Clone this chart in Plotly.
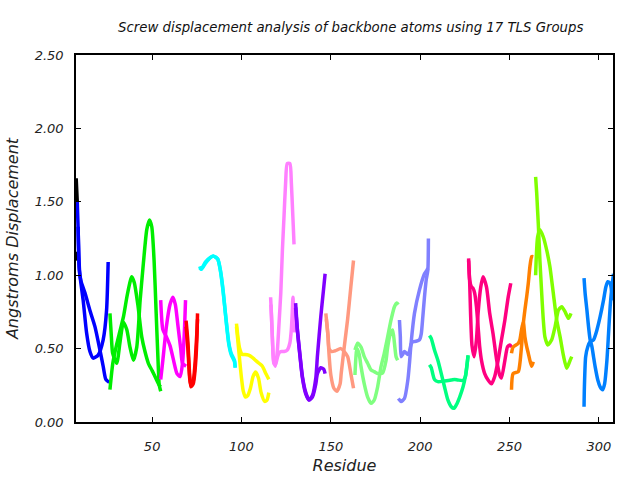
import plotly.graph_objects as go

# TLS group names and colours
groups = ["G1", "G2", "G3", "G4", "G5", "G6", "G7", "G8", "G9", "G10",
          "G11", "G12", "G13", "G14", "G15", "G16", "G17"]
colors = ["#000000", "#0000ff", "#00ee00", "#ff00ff", "#ff0000", "#00ffff",
          "#ffff00", "#ff80ff", "#8000ff", "#ff9980", "#80ff80", "#8080ff",
          "#00ff80", "#ff0080", "#ff8000", "#80ff00", "#0080ff"]

# Residue numbers (x) and displacement values (y) for the two screw curves of each group
g1_x = [7.5, 7.8, 8.1]
g1_a = [1.66, 1.58, 1.50]
g1_b = [1.16, 1.13, 1.10]

g2_xa = [8.1, 8.5, 9.0, 9.5, 11.4, 13.3, 15.2, 17.0, 19.8, 22.6, 24.5, 25.4]
g2_a = [1.50, 1.35, 1.13, 1.01, 0.83, 0.61, 0.48, 0.435, 0.456, 0.56, 0.76, 1.09]
g2_xb = [8.6, 9.2, 10.2, 12.4, 15.2, 18.0, 20.8, 22.6, 24.1, 26.0]
g2_b = [1.33, 1.04, 0.96, 0.88, 0.76, 0.65, 0.49, 0.38, 0.29, 0.27]

g3_xa = [26.4, 27.2, 27.9, 30.2, 32.0, 33.9, 35.8, 37.6, 39.5, 41.4, 43.3, 45.1, 47.0, 48.5, 49.8, 51.1, 52.2, 53.2, 54.0, 54.8]
g3_a = [0.74, 0.58, 0.47, 0.40, 0.54, 0.68, 0.63, 0.51, 0.42, 0.51, 0.83, 1.08, 1.31, 1.376, 1.33, 1.10, 0.76, 0.45, 0.25, 0.21]
g3_xb = [26.4, 28.0, 30.0, 32.0, 34.0, 36.0, 38.0, 38.6, 40.0, 42.0, 44.2, 46.0, 47.9, 50.0, 52.0, 54.0, 54.8]
g3_b = [0.22, 0.40, 0.52, 0.62, 0.72, 0.86, 0.97, 0.99, 0.95, 0.80, 0.58, 0.48, 0.40, 0.35, 0.30, 0.25, 0.24]

g4_xa = [54.8, 56.0, 58.0, 60.0, 62.0, 63.9, 65.7, 67.0, 68.0, 68.7]
g4_a = [0.83, 0.63, 0.58, 0.52, 0.42, 0.33, 0.31, 0.40, 0.60, 0.83]
g4_xb = [54.8, 56.0, 58.0, 60.0, 61.6, 63.0, 64.5, 66.0, 67.0, 69.0]
g4_b = [0.29, 0.42, 0.65, 0.80, 0.85, 0.80, 0.65, 0.50, 0.40, 0.38]

g5_x = [69.0, 70.0, 71.0, 71.7, 73.0, 74.0, 75.0, 75.4]
g5_a = [0.69, 0.55, 0.32, 0.24, 0.26, 0.35, 0.55, 0.74]
g5_b = [0.65, 0.50, 0.30, 0.25, 0.28, 0.40, 0.60, 0.70]

g6_x = [76.6, 77.5, 79.8, 82.6, 84.4, 86.7, 88.2, 89.7, 91.0, 92.0, 92.9, 94.2, 96.1, 96.5]
g6_a = [1.06, 1.04, 1.09, 1.12, 1.13, 1.11, 1.035, 0.90, 0.74, 0.63, 0.54, 0.47, 0.42, 0.37]
g6_b = [1.05, 1.04, 1.08, 1.12, 1.13, 1.11, 1.03, 0.89, 0.74, 0.62, 0.53, 0.46, 0.41, 0.37]

g7_xa = [97.2, 98.0, 99.0, 100.4, 102.0, 104.0, 106.0, 107.9, 109.8, 111.7, 113.6, 115.3]
g7_a = [0.67, 0.58, 0.50, 0.46, 0.46, 0.455, 0.44, 0.42, 0.40, 0.38, 0.33, 0.29]
g7_xb = [97.2, 98.0, 99.0, 100.0, 101.0, 102.2, 103.5, 105.0, 106.5, 107.9, 109.5, 111.0, 113.0, 114.3, 115.3]
g7_b = [0.65, 0.55, 0.42, 0.30, 0.21, 0.17, 0.18, 0.23, 0.31, 0.34, 0.30, 0.20, 0.14, 0.15, 0.20]

g8_xa = [116.3, 116.8, 117.4, 118.1, 119.0, 120.1, 121.0, 122.0, 123.8, 125.6, 127.1, 127.9, 128.4, 128.8, 129.4, 129.8]
g8_a = [0.85, 0.72, 0.54, 0.40, 0.39, 0.44, 0.47, 0.48, 0.48, 0.49, 0.54, 0.63, 0.74, 0.85, 0.70, 0.61]
g8_xb = [116.5, 117.2, 118.0, 119.0, 120.1, 121.0, 122.0, 122.9, 123.8, 124.7, 125.6, 127.1, 127.9, 128.6, 129.0, 129.4]
g8_b = [0.80, 0.60, 0.42, 0.38, 0.49, 0.67, 0.88, 1.17, 1.40, 1.63, 1.76, 1.76, 1.63, 1.44, 1.33, 1.21]

g9_x = [130.3, 131.3, 132.8, 134.1, 136.0, 137.8, 139.7, 141.6, 142.5, 144.4, 146.0, 146.8]
g9_a = [0.81, 0.63, 0.45, 0.31, 0.20, 0.15, 0.17, 0.26, 0.33, 0.37, 0.36, 0.33]
g9_xb = [130.3, 131.3, 132.8, 134.1, 136.0, 137.8, 139.7, 141.6, 142.5, 144.4, 145.9, 146.8]
g9_b = [0.78, 0.62, 0.44, 0.30, 0.19, 0.15, 0.18, 0.30, 0.45, 0.72, 0.90, 1.01]

g10_xa = [147.2, 148.3, 149.0, 150.0, 151.7, 153.4, 155.2, 155.8, 157.5, 159.4, 161.2, 162.7]
g10_a = [0.74, 0.60, 0.46, 0.32, 0.23, 0.21, 0.26, 0.33, 0.51, 0.70, 0.92, 1.10]
g10_xb = [147.5, 148.5, 149.0, 150.5, 152.5, 155.6, 157.5, 159.4, 161.2, 162.7]
g10_b = [0.70, 0.58, 0.50, 0.48, 0.485, 0.50, 0.48, 0.445, 0.33, 0.23]

g11_xa = [163.5, 165.0, 166.9, 168.7, 170.6, 172.5, 174.3, 176.2, 179.0, 180.9, 181.8, 183.3, 184.6, 185.6, 186.5, 187.4]
g11_a = [0.49, 0.536, 0.51, 0.445, 0.40, 0.354, 0.343, 0.33, 0.335, 0.42, 0.51, 0.60, 0.627, 0.536, 0.445, 0.42]
g11_xb = [163.5, 164.6, 165.9, 166.9, 168.7, 170.6, 172.5, 174.3, 176.2, 178.1, 179.9, 181.8, 183.7, 185.6, 186.9, 187.8]
g11_b = [0.32, 0.50, 0.46, 0.377, 0.26, 0.17, 0.127, 0.15, 0.24, 0.377, 0.468, 0.58, 0.695, 0.785, 0.81, 0.80]

g12_xa = [188.4, 188.9, 189.3, 190.2, 191.2, 193.1, 194.0, 194.9, 195.9, 197.7, 199.6, 200.6, 201.5, 202.4, 203.4, 204.3, 204.6]
g12_a = [0.695, 0.58, 0.445, 0.46, 0.48, 0.46, 0.48, 0.53, 0.547, 0.55, 0.56, 0.60, 0.72, 0.85, 0.97, 1.035, 1.25]
g12_xb = [187.8, 189.3, 191.2, 193.1, 194.0, 194.9, 196.8, 199.6, 202.4, 203.8, 204.3]
g12_b = [0.16, 0.14, 0.16, 0.286, 0.40, 0.536, 0.74, 0.90, 1.01, 1.035, 1.047]

g13_xa = [205.2, 206.2, 208.0, 209.9, 211.8, 213.6, 215.5, 217.4, 218.9, 220.2, 222.1, 224.0, 225.3, 226.1, 226.8]
g13_a = [0.59, 0.57, 0.49, 0.42, 0.33, 0.24, 0.15, 0.104, 0.093, 0.116, 0.17, 0.24, 0.31, 0.377, 0.456]
g13_xb = [205.2, 206.2, 207.0, 208.0, 209.9, 213.6, 217.4, 219.3, 221.1, 224.0, 225.3, 226.1, 226.8]
g13_b = [0.39, 0.37, 0.33, 0.29, 0.275, 0.28, 0.286, 0.29, 0.286, 0.283, 0.31, 0.38, 0.45]

g14_xa = [227.1, 227.7, 228.7, 229.6, 230.5, 231.5, 232.4, 233.3, 234.3, 236.1, 238.0, 239.9, 241.7, 243.6, 245.5, 247.4, 249.3, 250.7]
g14_a = [1.115, 0.967, 0.92, 0.91, 0.877, 0.785, 0.65, 0.513, 0.42, 0.33, 0.286, 0.26, 0.31, 0.42, 0.56, 0.695, 0.854, 0.945]
g14_xb = [227.1, 227.7, 228.2, 229.0, 230.2, 231.5, 232.4, 233.9, 235.2, 237.1, 238.9, 240.8, 242.7, 244.5, 245.5, 247.4, 248.9, 250.2, 251.1]
g14_b = [1.10, 0.95, 0.74, 0.52, 0.445, 0.56, 0.74, 0.92, 0.99, 0.92, 0.74, 0.60, 0.43, 0.32, 0.30, 0.42, 0.513, 0.525, 0.51]

g15_x = [251.1, 252.0, 254.9, 255.8, 256.7, 257.7, 258.6, 259.6, 260.5, 261.4, 262.4, 263.3]
g15_a = [0.22, 0.33, 0.343, 0.40, 0.513, 0.67, 0.763, 0.854, 0.945, 1.058, 1.126, 1.126]
g15_b = [0.468, 0.51, 0.536, 0.56, 0.627, 0.683, 0.58, 0.513, 0.468, 0.42, 0.38, 0.41]

g16_xa = [264.6, 265.2, 265.7, 266.1, 267.0, 268.0, 268.9, 269.8, 271.4, 273.6, 275.5, 277.4, 279.2, 281.1, 283.0, 284.4]
g16_a = [1.67, 1.56, 1.44, 1.35, 1.10, 0.877, 0.695, 0.58, 0.525, 0.56, 0.65, 0.763, 0.785, 0.75, 0.706, 0.74]
g16_xb = [264.6, 265.7, 267.0, 268.9, 270.8, 272.6, 274.5, 276.4, 278.3, 280.2, 282.0, 283.9, 284.8]
g16_b = [1.00, 1.26, 1.31, 1.26, 1.17, 1.058, 0.877, 0.695, 0.58, 0.45, 0.366, 0.42, 0.445]

g17_xa = [291.7, 292.3, 293.3, 294.2, 295.1, 296.1, 297.0, 297.9, 299.4, 300.7, 302.1, 303.2, 304.5, 305.4, 306.3, 307.3, 308.2]
g17_a = [0.98, 0.877, 0.763, 0.65, 0.56, 0.513, 0.445, 0.377, 0.286, 0.24, 0.22, 0.26, 0.42, 0.60, 0.785, 0.92, 1.01]
g17_xb = [291.7, 291.9, 292.6, 293.8, 295.1, 297.0, 298.9, 300.7, 302.6, 303.9, 305.0, 306.3, 307.3, 308.2]
g17_b = [0.104, 0.24, 0.445, 0.513, 0.547, 0.56, 0.627, 0.717, 0.83, 0.92, 0.956, 0.945, 0.88, 0.83]

series = [
    (g1_x, g1_a, g1_x, g1_b),
    (g2_xa, g2_a, g2_xb, g2_b),
    (g3_xa, g3_a, g3_xb, g3_b),
    (g4_xa, g4_a, g4_xb, g4_b),
    (g5_x, g5_a, g5_x, g5_b),
    (g6_x, g6_a, g6_x, g6_b),
    (g7_xa, g7_a, g7_xb, g7_b),
    (g8_xa, g8_a, g8_xb, g8_b),
    (g9_x, g9_a, g9_xb, g9_b),
    (g10_xa, g10_a, g10_xb, g10_b),
    (g11_xa, g11_a, g11_xb, g11_b),
    (g12_xa, g12_a, g12_xb, g12_b),
    (g13_xa, g13_a, g13_xb, g13_b),
    (g14_xa, g14_a, g14_xb, g14_b),
    (g15_x, g15_a, g15_x, g15_b),
    (g16_xa, g16_a, g16_xb, g16_b),
    (g17_xa, g17_a, g17_xb, g17_b),
]

x_ticks = [50, 100, 150, 200, 250, 300]
y_ticks = [0.0, 0.5, 1.0, 1.5, 2.0, 2.5]

fig = go.Figure()
for name, col, (xa, ya, xb, yb) in zip(groups, colors, series):
    for xs, ys in ((xa, ya), (xb, yb)):
        fig.add_trace(go.Scatter(
            x=xs, y=ys, mode="lines", name=name, showlegend=False,
            line=dict(color=col, width=3.5, shape="spline", smoothing=0.6),
        ))

font_fam = "DejaVu Sans"
fig.update_layout(
    width=640, height=480,
    margin=dict(l=76, r=27, t=55, b=58, autoexpand=False),
    paper_bgcolor="white", plot_bgcolor="white",
    font=dict(family=font_fam, size=13, color="#222222"),
    title=dict(
        text="<i>Screw displacement analysis of backbone atoms using 17 TLS Groups</i>",
        x=0.548, xanchor="center", y=0.942, yanchor="middle", yref="container",
        font=dict(family=font_fam, size=13.3, color="#111111"),
    ),
    showlegend=False,
)
fig.update_xaxes(
    range=[7.4, 307.9], tickvals=x_ticks,
    ticktext=[f"<i>{v}</i>" for v in x_ticks],
    ticks="inside", ticklen=5, tickcolor="black",
    showline=True, linecolor="black", linewidth=1.5, mirror="allticks",
    showgrid=False, zeroline=False, ticklabelstandoff=12, automargin=False,
    title=dict(text="<i>Residue</i>", standoff=6),
)
fig.update_yaxes(
    range=[0, 2.5], tickvals=y_ticks,
    ticktext=[f"<i>{v:.2f}</i>" for v in y_ticks],
    ticks="inside", ticklen=5, tickcolor="black",
    showline=True, linecolor="black", linewidth=1.5, mirror="allticks",
    showgrid=False, zeroline=False, ticklabelstandoff=8, automargin=False,
    title=dict(text="<i>Angstroms Displacement</i>", standoff=12),
)
fig.write_html("out.html")
